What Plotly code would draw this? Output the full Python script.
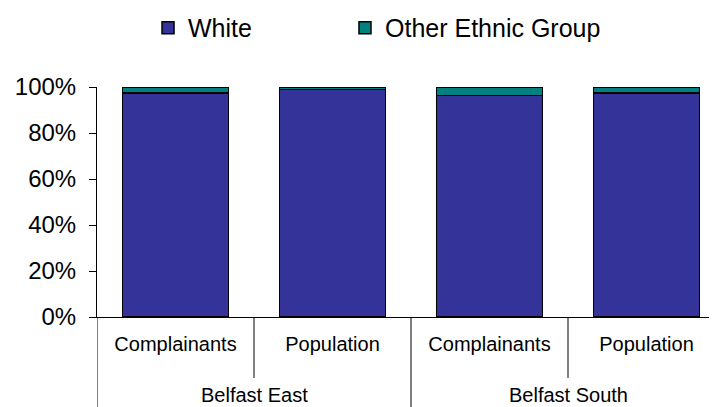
import plotly.graph_objects as go

groups = ["Belfast East", "Belfast South"]
subcats = ["Complainants", "Population", "Complainants", "Population"]
white = [97.3, 99.0, 96.4, 97.3]
other = [2.7, 1.0, 3.6, 2.7]
yticks = [0, 20, 40, 60, 80, 100]

xpos = list(range(len(subcats)))
FONT = "Arial, Liberation Sans, sans-serif"

fig = go.Figure()
fig.add_trace(go.Bar(x=xpos, y=white, name="White", legend="legend",
                     marker=dict(color="#333399", line=dict(color="black", width=1.5)), width=0.675))
fig.add_trace(go.Bar(x=xpos, y=other, name="Other Ethnic Group", legend="legend2",
                     marker=dict(color="#008080", line=dict(color="black", width=1.5)), width=0.675))

shapes = []
# inner dividers (between sub-categories)
for b in [0.5, 2.5]:
    shapes.append(dict(type="line", xref="x", yref="paper", x0=b, x1=b, y0=0, y1=-0.265, line=dict(color="black", width=1)))
# outer dividers (between groups)
for b in [-0.5, 1.5, 3.5]:
    shapes.append(dict(type="line", xref="x", yref="paper", x0=b, x1=b, y0=0, y1=-0.4, line=dict(color="black", width=1)))

annotations = []
for i, g in enumerate(groups):
    annotations.append(dict(x=2 * i + 0.5, xref="x", y=-0.339, yref="paper", text=g, showarrow=False,
                            font=dict(size=20, color="black", family=FONT), xanchor="center", yanchor="middle"))

legend_common = dict(orientation="h", xref="container", xanchor="left", yref="container", yanchor="middle",
                     y=0.95, font=dict(size=25), bgcolor="rgba(0,0,0,0)")

fig.update_layout(
    barmode="stack",
    width=709, height=399,
    margin=dict(l=89, r=0, t=79, b=90, autoexpand=False),
    paper_bgcolor="white", plot_bgcolor="white",
    font=dict(family=FONT, color="black"),
    showlegend=True,
    legend=dict(x=0.1975, **legend_common),
    legend2=dict(x=0.4753, **legend_common),
    shapes=shapes, annotations=annotations,
)
fig.update_xaxes(range=[-0.5, 3.449], tickvals=xpos, ticktext=subcats, showline=True, linecolor="black",
                 linewidth=1, ticks="", showgrid=False, zeroline=False, tickfont=dict(size=20),
                 ticklabelstandoff=9, automargin=False)
fig.update_yaxes(range=[0, 100], tickvals=yticks, ticktext=[f"{v}%" for v in yticks], showline=True,
                 linecolor="black", linewidth=1, ticks="outside", ticklen=7, tickcolor="black",
                 showgrid=False, zeroline=False, tickfont=dict(size=24), ticklabelstandoff=8,
                 automargin=False)

fig.write_html("out.html")
